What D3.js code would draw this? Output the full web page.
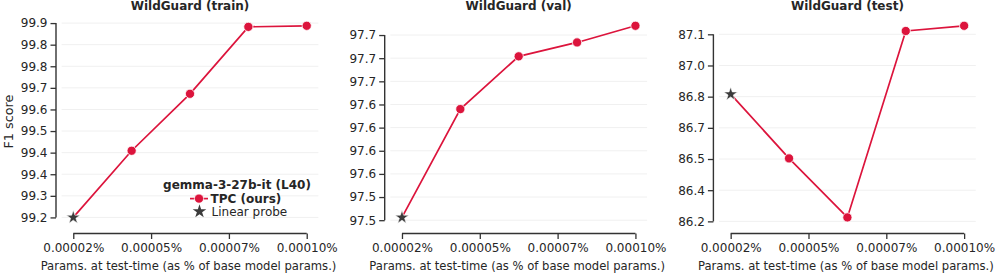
<!DOCTYPE html>
<html><head><meta charset="utf-8">
<script src="https://cdn.jsdelivr.net/npm/d3@7"></script>
<style>body{margin:0;background:#fff}svg{display:block;font-family:"DejaVu Sans",sans-serif}</style>
</head><body>
<script>
const panelTitles = ["WildGuard (train)", "WildGuard (val)", "WildGuard (test)"];
const xValues = [0.00002, 0.00004, 0.00006, 0.00008, 0.0001];
const xTickValues = [0.00002, 0.0000466667, 0.0000733333, 0.0001];
const xTickLabels = ["0.00002%", "0.00005%", "0.00007%", "0.00010%"];
const probeTrain = 99.200, probeVal = 97.503, probeTest = 86.812;
const tpcTrain = [99.447, 99.658, 99.906, 99.910];
const tpcVal = [97.620, 97.677, 97.692, 97.710];
const tpcTest = [86.503, 86.219, 87.116, 87.141];
const yTicksTrain = [99.2, 99.28, 99.36, 99.44, 99.52, 99.6, 99.68, 99.76, 99.84, 99.92];
const yLabelsTrain = ["99.2","99.3","99.4","99.4","99.5","99.6","99.7","99.8","99.8","99.9"];
const yTicksVal = [97.5, 97.525, 97.55, 97.575, 97.6, 97.625, 97.65, 97.675, 97.7];
const yLabelsVal = ["97.5","97.5","97.6","97.6","97.6","97.6","97.7","97.7","97.7"];
const yTicksTest = [86.2, 86.35, 86.5, 86.65, 86.8, 86.95, 87.1];
const yLabelsTest = ["86.2","86.4","86.5","86.7","86.8","87.0","87.1"];
const legendTitle = "gemma-3-27b-it (L40)";
const seriesNames = ["TPC (ours)", "Linear probe"];
const xLabel = "Params. at test-time (as % of base model params.)";
const yLabel = "F1 score";

const panels = [
  {title: panelTitles[0], probe: probeTrain, tpc: tpcTrain, ticks: yTicksTrain, labels: yLabelsTrain},
  {title: panelTitles[1], probe: probeVal, tpc: tpcVal, ticks: yTicksVal, labels: yLabelsVal},
  {title: panelTitles[2], probe: probeTest, tpc: tpcTest, ticks: yTicksTest, labels: yLabelsTest}
];

const W = 997, H = 273;
const RED = "#dc143c", STAR = "#3b3b3b", INK = "#262626", SPINE = "#333333";
const lefts = [61.6, 390.3, 719.0], axW = 256.8, axTop = 16.2, axBot = 227;
const FS = 12;

const svg = d3.select("body").append("svg").attr("width", W).attr("height", H);
const starSym = d3.symbol().type(d3.symbolStar).size(58);

panels.forEach((p, i) => {
  const L = lefts[i];
  const allY = [p.probe, ...p.tpc];
  const ymin = d3.min(allY), ymax = d3.max(allY), pad = (ymax - ymin) * 0.05;
  const x = d3.scaleLinear().domain([xValues[0] - (xValues[4]-xValues[0])*0.05, xValues[4] + (xValues[4]-xValues[0])*0.05]).range([L, L + axW]);
  const y = d3.scaleLinear().domain([ymin - pad, ymax + pad]).range([axBot, axTop]);
  const g = svg.append("g");

  g.selectAll("line.grid").data(p.ticks).join("line").attr("class","grid")
    .attr("x1", L).attr("x2", L + axW).attr("y1", d => y(d)).attr("y2", d => y(d))
    .attr("stroke", "#f0f0f0").attr("stroke-width", 1);

  const ySpineX = L - 5.6;
  const yAxis = d3.axisLeft(y).tickValues(p.ticks).tickFormat((d, k) => p.labels[k]).tickSizeOuter(0).tickSize(5.5).tickPadding(3);
  const ya = g.append("g").attr("transform", `translate(${ySpineX},0)`).call(yAxis);
  ya.select(".domain").attr("d", `M0,${y(p.ticks[0])}V${y(p.ticks[p.ticks.length-1])}`).attr("stroke", SPINE).attr("stroke-width", 1.4);
  ya.selectAll(".tick line").attr("stroke", SPINE).attr("stroke-width", 1.3);
  ya.selectAll(".tick text").attr("fill", INK).style("font-size", FS + "px").style("font-family", "DejaVu Sans");

  const xSpineY = 233.5;
  const xAxis = d3.axisBottom(x).tickValues(xTickValues).tickFormat((d, k) => xTickLabels[k]).tickSizeOuter(0).tickSize(5.5).tickPadding(4);
  const xa = g.append("g").attr("transform", `translate(0,${xSpineY})`).call(xAxis);
  xa.select(".domain").attr("d", `M${x(xTickValues[0])},0H${x(xTickValues[3])}`).attr("stroke", SPINE).attr("stroke-width", 1.4);
  xa.selectAll(".tick line").attr("stroke", SPINE).attr("stroke-width", 1.3);
  xa.selectAll(".tick text").attr("fill", INK).style("font-size", FS + "px").style("font-family", "DejaVu Sans");

  g.append("text").attr("x", L + axW/2 - 1.5).attr("y", 269.5).attr("text-anchor", "middle")
    .attr("fill", INK).style("font-size", "11.6px").text(xLabel);

  g.append("text").attr("x", L + axW/2).attr("y", 9.5).attr("text-anchor", "middle")
    .attr("fill", INK).style("font-size", FS + "px").style("font-weight", "bold").text(p.title);

  const pts = allY.map((v, k) => [x(xValues[k]), y(v)]);
  g.append("path").attr("d", d3.line()(pts)).attr("fill", "none").attr("stroke", RED).attr("stroke-width", 1.7);

  g.selectAll("circle.pt").data(p.tpc).join("circle").attr("class","pt")
    .attr("cx", (d, k) => x(xValues[k+1])).attr("cy", d => y(d)).attr("r", 4.6)
    .attr("fill", RED).attr("stroke", "#fff").attr("stroke-width", 0.8);

  g.append("path").attr("d", starSym()).attr("transform", `translate(${x(xValues[0])},${y(p.probe)})`)
    .attr("fill", STAR).attr("stroke", "#fff").attr("stroke-width", 0.6);

  if (i === 0) {
    svg.append("text").attr("transform", `translate(12.5,${(axTop+axBot)/2}) rotate(-90)`)
      .attr("text-anchor", "middle").attr("fill", INK).style("font-size", "12.8px").text(yLabel);
    const lg = svg.append("g");
    lg.append("text").attr("x", 237).attr("y", 188.5).attr("text-anchor", "middle").attr("fill", INK)
      .style("font-size", FS + "px").style("font-weight", "bold").text(legendTitle);
    lg.append("line").attr("x1", 190).attr("x2", 208).attr("y1", 198.6).attr("y2", 198.6).attr("stroke", RED).attr("stroke-width", 1.7);
    lg.append("circle").attr("cx", 199).attr("cy", 198.6).attr("r", 4.6).attr("fill", RED).attr("stroke", "#fff").attr("stroke-width", 0.8);
    lg.append("text").attr("x", 210.5).attr("y", 202.8).attr("fill", INK).style("font-size", FS + "px").style("font-weight", "bold").text(seriesNames[0]);
    lg.append("path").attr("d", starSym()).attr("transform", "translate(199.5,211.5)").attr("fill", STAR);
    lg.append("text").attr("x", 211.5).attr("y", 216).attr("fill", INK).style("font-size", FS + "px").text(seriesNames[1]);
  }
});
</script>
</body></html>
